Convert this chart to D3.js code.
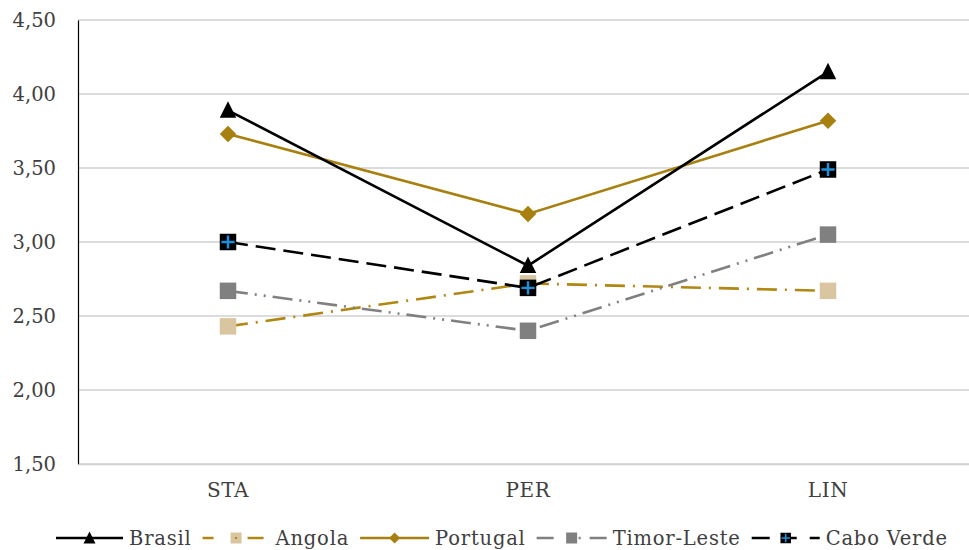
<!DOCTYPE html>
<html>
<head>
<meta charset="utf-8">
<script src="https://cdn.jsdelivr.net/npm/d3@7"></script>
<style>
  html, body { margin: 0; padding: 0; background: #fff; }
  svg { display: block; font-family: "DejaVu Serif", "Liberation Serif", serif; }
</style>
</head>
<body>
<svg id="chart" width="969" height="550"></svg>
<script>
// Mean scores per dimension and country
const categories = ["STA", "PER", "LIN"];
const seriesNames = ["Brasil", "Angola", "Portugal", "Timor-Leste", "Cabo Verde"];
const brasil     = [3.89, 2.84, 4.15];
const angola     = [2.43, 2.72, 2.67];
const portugal   = [3.73, 3.19, 3.82];
const timorLeste = [2.67, 2.40, 3.05];
const caboVerde  = [3.00, 2.69, 3.49];
const yTicks = [1.5, 2.0, 2.5, 3.0, 3.5, 4.0, 4.5];

const seriesValues = [brasil, angola, portugal, timorLeste, caboVerde];

// Visual styling per series (line dash in plot, dash of the legend sample)
const styles = [
  { stroke: "#000000", dash: null, legendDash: null, sample: 67, marker: "triangle", fill: "#000000" },
  { stroke: "#B08712", dash: "20,8,2,8", legendDash: "11,34,16,20", sample: 67, marker: "square", fill: "#D9C6A0" },
  { stroke: "#A8800F", dash: null, legendDash: null, sample: 69, marker: "diamond", fill: "#A8800F" },
  { stroke: "#808080", dash: "20,7,2,7,2,7", legendDash: "17,25,2,9,17,20", sample: 70, marker: "square", fill: "#808080" },
  { stroke: "#000000", dash: "20,8", legendDash: "18,20,7,13,10,20", sample: 68, marker: "cross", fill: "#000000" }
];

const svg = d3.select("#chart");
const plotLeft = 78, plotRight = 978, plotTop = 20, plotBottom = 464;

const x = d3.scaleBand().domain(categories).range([plotLeft, plotRight]);
const y = d3.scaleLinear().domain([1.5, 4.5]).range([plotBottom, plotTop]);

// Horizontal gridlines
svg.append("g")
  .selectAll("line")
  .data(yTicks)
  .join("line")
  .attr("x1", plotLeft).attr("x2", plotRight)
  .attr("y1", d => y(d)).attr("y2", d => y(d))
  .attr("stroke", "#D0D0D0").attr("stroke-width", 1.3);

// Y axis
const fmt = d => d3.format(".2f")(d).replace(".", ",");
const yAxis = svg.append("g")
  .attr("transform", `translate(${plotLeft},0)`)
  .call(d3.axisLeft(y).tickValues(yTicks).tickFormat(fmt).tickSize(0).tickPadding(22));
yAxis.select(".domain").attr("stroke", "#000").attr("stroke-width", 1.2);
yAxis.selectAll("text").attr("font-size", 19.5).attr("fill", "#404040")
  .attr("font-family", "DejaVu Serif, serif");

// X axis labels
const xAxis = svg.append("g")
  .attr("transform", `translate(0,${plotBottom})`)
  .call(d3.axisBottom(x).tickSize(0).tickPadding(19));
xAxis.select(".domain").attr("stroke", "#D0D0D0").attr("stroke-width", 1.3);
xAxis.selectAll("text").attr("font-size", 20).attr("fill", "#404040")
  .attr("letter-spacing", 0.6)
  .attr("font-family", "DejaVu Serif, serif");

const cx = c => x(c) + x.bandwidth() / 2;

function drawMarker(g, type, fill, px, py, s) {
  if (type === "triangle") {
    g.append("path")
      .attr("d", `M${px},${py - s * 0.55}L${px + s / 2},${py + s * 0.45}L${px - s / 2},${py + s * 0.45}Z`)
      .attr("fill", fill);
  } else if (type === "diamond") {
    const h = s * 0.55;
    g.append("path")
      .attr("d", `M${px},${py - h}L${px + h},${py}L${px},${py + h}L${px - h},${py}Z`)
      .attr("fill", fill);
  } else if (type === "square") {
    g.append("rect")
      .attr("x", px - s / 2).attr("y", py - s / 2)
      .attr("width", s).attr("height", s)
      .attr("fill", fill);
  } else if (type === "cross") {
    g.append("rect")
      .attr("x", px - s / 2).attr("y", py - s / 2)
      .attr("width", s).attr("height", s)
      .attr("fill", "#000");
    const inset = s * 0.1;
    g.append("path")
      .attr("d", `M${px - s / 2 + inset},${py}H${px + s / 2 - inset}M${px},${py - s / 2 + inset}V${py + s / 2 - inset}`)
      .attr("stroke", "#1E90DA").attr("stroke-width", s * 0.15);
  }
}

const line = d3.line().x(d => cx(d.c)).y(d => y(d.v));

// Series lines and markers (draw order keeps Brasil on top at PER)
const order = [1, 3, 2, 4, 0];
order.forEach(i => {
  const st = styles[i];
  const pts = categories.map((c, j) => ({ c, v: seriesValues[i][j] }));
  const g = svg.append("g");
  g.append("path")
    .attr("d", line(pts))
    .attr("fill", "none")
    .attr("stroke", st.stroke)
    .attr("stroke-width", 2.6)
    .attr("stroke-dasharray", st.dash);
  pts.forEach(p => {
    drawMarker(g, st.marker, st.fill, cx(p.c), y(p.v), st.marker === "diamond" ? 15 : 16.5);
  });
});

// Legend
const legend = svg.append("g").attr("transform", "translate(0,538)");
let lx = 56;
seriesNames.forEach((name, i) => {
  const st = styles[i];
  const g = legend.append("g");
  g.append("line")
    .attr("x1", lx).attr("x2", lx + st.sample)
    .attr("y1", 0).attr("y2", 0)
    .attr("stroke", st.stroke).attr("stroke-width", 2.6)
    .attr("stroke-dasharray", st.legendDash);
  const mx = lx + st.sample / 2;
  if (st.marker === "triangle") drawMarker(g, "triangle", st.fill, mx, 0, 12);
  else if (st.marker === "diamond") drawMarker(g, "diamond", st.fill, mx, 0, 10);
  else if (st.marker === "cross") drawMarker(g, "cross", st.fill, mx, 0, 10.5);
  else {
    drawMarker(g, "square", st.fill, mx, 0, 11);
    if (i === 1) drawMarker(g, "square", st.stroke, mx, 0, 2);
  }
  const t = g.append("text")
    .attr("x", lx + st.sample + 6).attr("y", 0)
    .attr("dy", "0.35em")
    .attr("font-size", 19.5)
    .attr("letter-spacing", 0.8)
    .attr("fill", "#404040")
    .text(name);
  lx = lx + st.sample + 6 + t.node().getComputedTextLength() + 11;
});
</script>
</body>
</html>
